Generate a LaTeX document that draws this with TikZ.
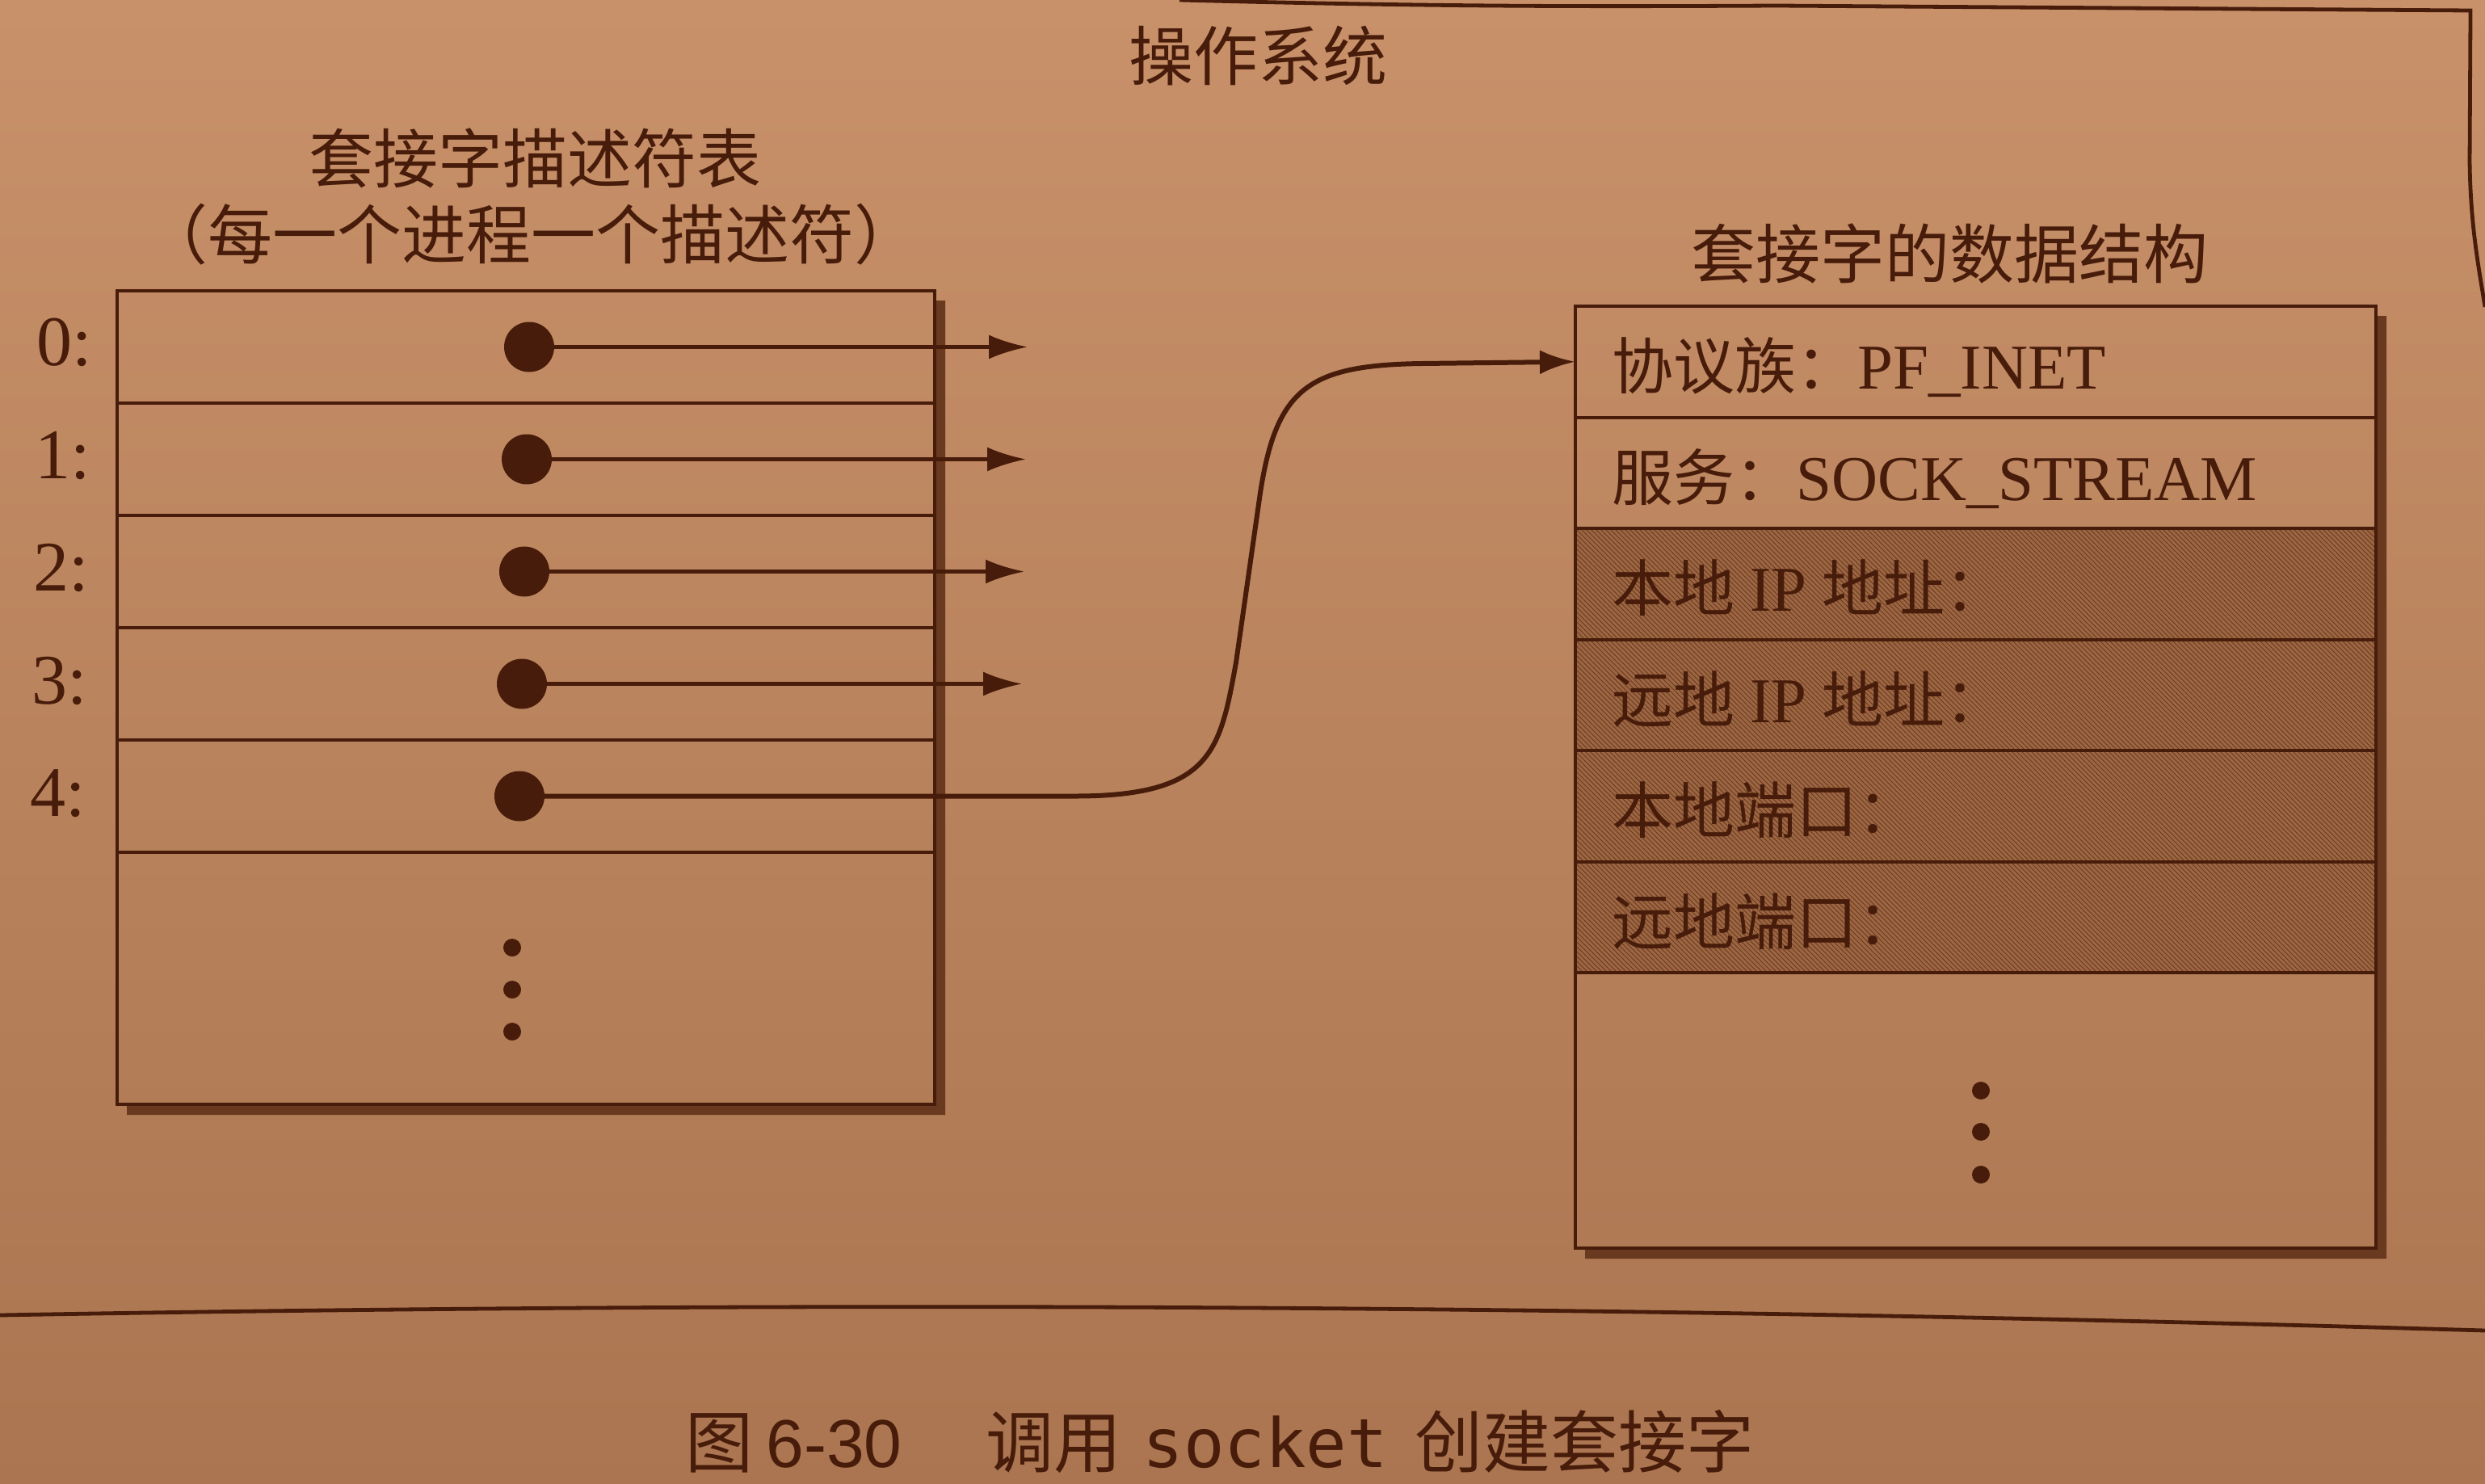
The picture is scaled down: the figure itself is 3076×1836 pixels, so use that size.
\documentclass[tikz,border=0pt]{standalone}
\usepackage{fontspec}
\setmainfont{Liberation Serif}
\newfontfamily\cjk{Noto Sans CJK SC}
\newfontfamily\capsans{Liberation Sans}
\newfontfamily\capmono{DejaVu Sans Mono}
\usetikzlibrary{arrows.meta,patterns}
\definecolor{paperTop}{RGB}{200,145,106}
\definecolor{paperBot}{RGB}{170,117,80}
\definecolor{ink}{RGB}{72,28,10}
\definecolor{shadebase}{RGB}{156,102,67}
\definecolor{hatch}{RGB}{105,58,32}
\newcommand\latx[1]{{\fontsize{39.5pt}{41pt}\selectfont #1}}
\begin{document}
\begin{tikzpicture}[x=0.5pt,y=-0.5pt,
  lrow/.style={draw=ink,line width=2pt,minimum width=506pt,minimum height=69.5pt,inner sep=0pt,outer sep=0pt},
  rrow/.style={draw=ink,line width=2pt,minimum width=495.5pt,minimum height=68.75pt,inner sep=0pt,outer sep=0pt},
  shadedrow/.style={preaction={fill=shadebase},pattern=north west lines,pattern color=hatch},
  bigdot/.style={circle,fill=ink,minimum size=31pt,inner sep=0pt,outer sep=0pt},
  smalldot/.style={circle,fill=ink,minimum size=11pt,inner sep=0pt},
  ptr/.style={draw=ink,line width=2.1pt,-{Latex[length=24pt,width=15pt]}},
  link/.style={draw=ink,line width=3pt,-{Latex[length=22pt,width=15pt]}},
  idx/.style={font=\fontsize{44}{46}\selectfont,text=ink,inner sep=0pt,anchor=east},
  ttl/.style={font=\cjk\fontsize{40}{42}\selectfont,text=ink,inner sep=0pt},
  field/.style={font=\fontsize{38}{40}\selectfont,text=ink,inner sep=0pt,anchor=base west},
  shadowstrip/.style={fill=hatch},
  frameline/.style={draw=ink,line width=2.4pt}]
\useasboundingbox (0,0) rectangle (3076,1836);
\shade[top color=paperTop,bottom color=paperBot] (0,0) rectangle (3076,1836);

% outer frame of the operating system area
\draw[frameline] (1460,0) .. controls (1800,9) and (2000,8) .. (2200,7) -- (3058,13) -- (3057,200) .. controls (3058,280) and (3068,330) .. (3076,380);
\draw[frameline] (0,1628) .. controls (1000,1610) and (2000,1615) .. (3076,1647);

% titles
\node[ttl] (os) at (1557,69) {操作系统};
\node[ttl] (lt1) at (662,196) {套接字描述符表};
\node[ttl] (lt2) at (657,290) {（每一个进程一个描述符）};
\node[ttl] (rt) at (2413,314) {套接字的数据结构};

% shadows
\fill[shadowstrip] (1157,372) -- (1170,372) -- (1170,1380) -- (157,1380) -- (157,1367) -- (1157,1367) -- cycle;
\fill[shadowstrip] (2941,391) -- (2954,391) -- (2954,1558) -- (1962,1558) -- (1962,1545) -- (2941,1545) -- cycle;

% left table: socket descriptor table
\node[lrow] (L0) at (651,429.5) {};
\node[lrow] (L1) at (651,568.5) {};
\node[lrow] (L2) at (651,707.5) {};
\node[lrow] (L3) at (651,846.5) {};
\node[lrow] (L4) at (651,985.5) {};
\node[lrow,minimum height=156pt] (L5) at (651,1211) {};

\node[idx] (i0) at (114,424) {0:};
\node[idx] (i1) at (112,564) {1:};
\node[idx] (i2) at (110,703) {2:};
\node[idx] (i3) at (108,843) {3:};
\node[idx] (i4) at (106,982) {4:};

\node[smalldot] (ld1) at (634,1173) {};
\node[smalldot] (ld2) at (634,1225) {};
\node[smalldot] (ld3) at (634,1277) {};

% right table: socket data structure
\node[rrow] (R0) at (2445.5,447.75) {};
\node[rrow] (R1) at (2445.5,585.25) {};
\node[rrow,shadedrow] (R2) at (2445.5,722.75) {};
\node[rrow,shadedrow] (R3) at (2445.5,860.25) {};
\node[rrow,shadedrow] (R4) at (2445.5,997.75) {};
\node[rrow,shadedrow] (R5) at (2445.5,1135.25) {};
\node[rrow,minimum height=170.5pt] (R6) at (2445.5,1374.5) {};

\node[field] (f0) at (1995,481.75) {{\cjk 协议族：}\latx{PF\_INET}};
\node[field] (f1) at (1995,619.25) {{\cjk 服务：}\latx{SOCK\_STREAM}};
\node[field] (f2) at (1995,756.75) {{\cjk 本地} \latx{IP} {\cjk 地址：}};
\node[field] (f3) at (1995,894.25) {{\cjk 远地} \latx{IP} {\cjk 地址：}};
\node[field] (f4) at (1995,1031.75) {{\cjk 本地端口：}};
\node[field] (f5) at (1995,1169.25) {{\cjk 远地端口：}};

\node[smalldot] (rd1) at (2452,1350) {};
\node[smalldot] (rd2) at (2452,1401) {};
\node[smalldot] (rd3) at (2452,1454) {};

% descriptor pointers
\node[bigdot] (d0) at (655,429.5) {};
\node[bigdot] (d1) at (652,568.5) {};
\node[bigdot] (d2) at (649,707.5) {};
\node[bigdot] (d3) at (646,846.5) {};
\node[bigdot] (d4) at (643,985.5) {};
\coordinate (e0) at (1272,429.5);
\coordinate (e1) at (1270,568.5);
\coordinate (e2) at (1268,707.5);
\coordinate (e3) at (1265,846.5);
\draw[ptr] (d0) -- (e0);
\draw[ptr] (d1) -- (e1);
\draw[ptr] (d2) -- (e2);
\draw[ptr] (d3) -- (e3);

\coordinate (c1) at (1330,985.5);
\coordinate (c2) at (1530,820);
\coordinate (c3) at (1560,610);
\coordinate (c4) at (1760,450);
\draw[link] (d4) -- (c1) .. controls (1500,985.5) and (1510,930) .. (c2) -- (c3) .. controls (1580,480) and (1620,452) .. (c4) -- (R0.west);

% caption
\node[anchor=base west,inner sep=0pt,text=ink,font=\fontsize{42}{44}\selectfont] (cap) at (848,1816)
  {{\cjk 图}\hspace{8pt}{\capsans 6-30}\hspace{52pt}{\cjk 调用}\hspace{13pt}{\capmono socket}\hspace{17pt}{\cjk 创建套接字}};
\end{tikzpicture}
\end{document}
